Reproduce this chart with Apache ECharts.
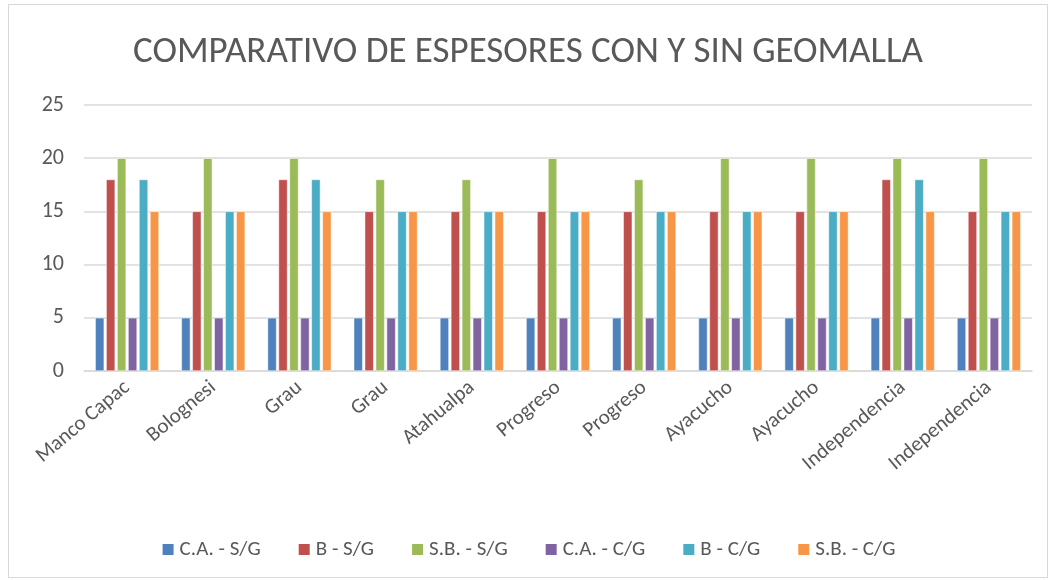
<!DOCTYPE html>
<html>
<head>
<meta charset="utf-8">
<script src="https://cdn.jsdelivr.net/npm/echarts@6/dist/echarts.min.js"></script>
<style>
  html, body { margin: 0; padding: 0; background: #fff; }
  #chart { position: absolute; left: 8px; top: 4px; width: 1040px; height: 574px; border: 1px solid #d9d9d9; box-sizing: border-box; }
</style>
</head>
<body>
<div id="chart"></div>
<script>
/* ----------  Data  ---------- */
const categories = ['Manco Capac', 'Bolognesi', 'Grau', 'Grau', 'Atahualpa', 'Progreso',
  'Progreso', 'Ayacucho', 'Ayacucho', 'Independencia', 'Independencia'];
const seriesNames = ['C.A. - S/G', 'B - S/G', 'S.B. - S/G', 'C.A. - C/G', 'B - C/G', 'S.B. - C/G'];
const caSG = [5, 5, 5, 5, 5, 5, 5, 5, 5, 5, 5];
const bSG = [18, 15, 18, 15, 15, 15, 15, 15, 15, 18, 15];
const sbSG = [20, 20, 20, 18, 18, 20, 18, 20, 20, 20, 20];
const caCG = [5, 5, 5, 5, 5, 5, 5, 5, 5, 5, 5];
const bCG = [18, 15, 18, 15, 15, 15, 15, 15, 15, 18, 15];
const sbCG = [15, 15, 15, 15, 15, 15, 15, 15, 15, 15, 15];
const yTicks = [0, 5, 10, 15, 20, 25];

const colors = ['#4f81bd', '#c0504d', '#9bbb59', '#8064a2', '#4bacc6', '#f79646'];
const values = [caSG, bSG, sbSG, caCG, bCG, sbCG];
const font = 'Carlito, "Liberation Sans Narrow", "Open Sans", sans-serif';

/* ----------  Chart  ---------- */
const chart = echarts.init(document.getElementById('chart'));
chart.setOption({
  animation: false,
  color: colors,
  textStyle: { fontFamily: font },
  title: {
    text: 'COMPARATIVO DE ESPESORES CON Y SIN GEOMALLA',
    left: 'center',
    top: 24,
    textStyle: { fontFamily: font, fontSize: 37, fontWeight: 'normal', color: '#595959' },
  },
  legend: {
    bottom: 12,
    left: 'center',
    itemWidth: 13,
    itemHeight: 13,
    itemGap: 36,
    icon: 'rect',
    textStyle: { fontFamily: font, fontSize: 21, color: '#595959' },
    data: seriesNames,
  },
  grid: { left: 75, right: 15, top: 100, bottom: 206, containLabel: false },
  xAxis: {
    type: 'category',
    data: categories,
    axisLine: { lineStyle: { color: '#d9d9d9', width: 1.5 } },
    axisTick: { show: false },
    axisLabel: { rotate: 40, fontSize: 21, color: '#595959', margin: 14, interval: 0 },
  },
  yAxis: {
    type: 'value',
    min: yTicks[0],
    max: yTicks[yTicks.length - 1],
    interval: 5,
    axisLine: { show: false },
    axisTick: { show: false },
    axisLabel: { fontSize: 22, color: '#595959', margin: 20 },
    splitLine: { lineStyle: { color: '#d9d9d9', width: 1.5 } },
  },
  series: seriesNames.map((name, i) => ({
    name,
    type: 'bar',
    data: values[i],
    barGap: '22%',
    barCategoryGap: '26%',
    itemStyle: { borderColor: '#ffffff', borderWidth: 0.5 },
  })),
});
</script>
</body>
</html>
